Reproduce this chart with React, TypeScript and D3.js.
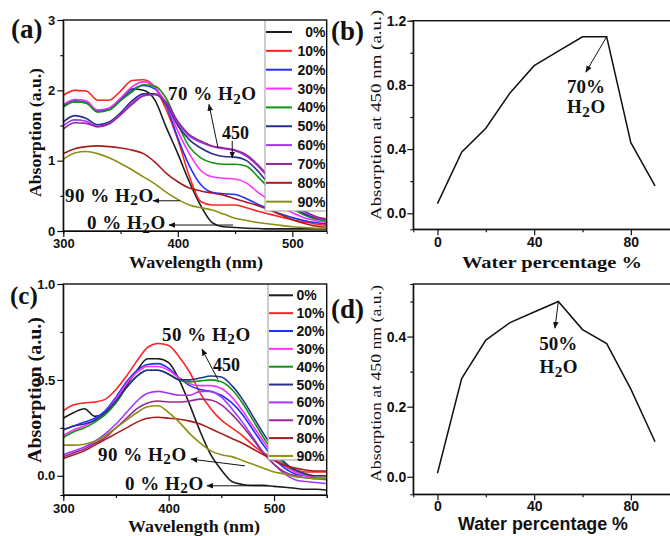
import { useEffect, useRef } from "react";
import * as d3 from "d3";

const SERIF = "'Liberation Serif', 'Times New Roman', serif";
const SANS = "'Liberation Sans', Arial, sans-serif";

// legend entries (water fraction) and their colours
const waterLevels = ["0%", "10%", "20%", "30%", "40%", "50%", "60%", "70%", "80%", "90%"];
const levelColors = ["#1c1c1c", "#ff2424", "#2030ff", "#ff30ff", "#129612", "#27308f", "#a436ff", "#962896", "#a81c1c", "#8e8e14"];

// ---- panel (a) spectra ----
const wavelengthA = [300, 310, 320, 330, 340, 350, 360, 370, 380, 390, 400, 410, 420, 430, 440, 450, 460, 470, 480, 490, 500, 510, 520, 530];
const absA0 = [1.78, 1.84, 1.82, 1.70, 1.74, 1.88, 2.02, 2.00, 1.86, 1.47, 1.10, 0.70, 0.36, 0.12, 0.06, 0.05, 0.04, 0.035, 0.03, 0.03, 0.03, 0.03, 0.03, 0.03];
const absA10 = [1.93, 2.00, 1.99, 1.86, 1.86, 1.99, 2.14, 2.15, 2.04, 1.72, 1.30, 0.78, 0.42, 0.37, 0.37, 0.37, 0.33, 0.28, 0.24, 0.20, 0.16, 0.13, 0.10, 0.08];
const absA20 = [1.77, 1.85, 1.83, 1.71, 1.74, 1.86, 2.00, 2.07, 2.02, 1.78, 1.32, 0.93, 0.66, 0.55, 0.53, 0.52, 0.46, 0.38, 0.31, 0.24, 0.19, 0.15, 0.12, 0.10];
const absA30 = [1.80, 1.87, 1.85, 1.72, 1.75, 1.89, 2.05, 2.12, 2.04, 1.80, 1.42, 1.10, 0.86, 0.77, 0.75, 0.74, 0.68, 0.55, 0.44, 0.34, 0.26, 0.19, 0.15, 0.12];
const absA40 = [1.76, 1.84, 1.82, 1.69, 1.72, 1.85, 1.98, 2.08, 2.06, 1.88, 1.52, 1.20, 1.04, 0.97, 0.95, 0.95, 0.92, 0.77, 0.60, 0.43, 0.32, 0.23, 0.17, 0.14];
const absA50 = [1.55, 1.64, 1.60, 1.51, 1.55, 1.68, 1.85, 1.95, 1.95, 1.80, 1.50, 1.30, 1.18, 1.10, 1.06, 1.05, 1.00, 0.85, 0.66, 0.50, 0.36, 0.25, 0.19, 0.16];
const absA60 = [1.50, 1.58, 1.56, 1.49, 1.53, 1.66, 1.82, 1.93, 1.94, 1.82, 1.54, 1.35, 1.26, 1.20, 1.17, 1.14, 1.06, 0.92, 0.74, 0.55, 0.40, 0.28, 0.20, 0.16];
const absA70 = [1.45, 1.54, 1.53, 1.48, 1.52, 1.65, 1.80, 1.92, 1.94, 1.83, 1.56, 1.37, 1.28, 1.21, 1.18, 1.15, 1.08, 0.94, 0.76, 0.57, 0.41, 0.29, 0.21, 0.17];
const absA80 = [1.10, 1.17, 1.20, 1.21, 1.20, 1.18, 1.15, 1.10, 0.98, 0.82, 0.70, 0.61, 0.57, 0.54, 0.51, 0.46, 0.41, 0.36, 0.30, 0.23, 0.16, 0.11, 0.07, 0.05];
const absA90 = [1.02, 1.11, 1.13, 1.10, 1.04, 0.96, 0.87, 0.77, 0.67, 0.55, 0.45, 0.37, 0.33, 0.30, 0.24, 0.18, 0.15, 0.12, 0.10, 0.08, 0.06, 0.05, 0.04, 0.04];

// ---- panel (c) spectra ----
const wavelengthC = [300, 310, 320, 330, 340, 350, 360, 370, 380, 390, 400, 410, 420, 430, 440, 450, 460, 470, 480, 490, 500, 510, 520, 530, 540, 550];
const absC0 = [0.30, 0.33, 0.35, 0.31, 0.33, 0.39, 0.47, 0.55, 0.61, 0.61, 0.59, 0.50, 0.37, 0.23, 0.11, 0.03, -0.03, -0.045, -0.05, -0.05, -0.055, -0.06, -0.065, -0.07, -0.07, -0.075];
const absC10 = [0.34, 0.37, 0.38, 0.385, 0.40, 0.45, 0.52, 0.60, 0.67, 0.69, 0.68, 0.62, 0.54, 0.43, 0.35, 0.29, 0.25, 0.21, 0.16, 0.12, 0.09, 0.05, 0.03, 0.02, 0.02, 0.02];
const absC20 = [0.24, 0.26, 0.28, 0.30, 0.34, 0.41, 0.49, 0.55, 0.58, 0.585, 0.56, 0.51, 0.47, 0.45, 0.44, 0.42, 0.38, 0.32, 0.24, 0.16, 0.09, 0.04, 0.01, 0.0, -0.01, -0.01];
const absC30 = [0.21, 0.24, 0.26, 0.29, 0.33, 0.40, 0.48, 0.54, 0.57, 0.57, 0.55, 0.51, 0.48, 0.47, 0.47, 0.455, 0.41, 0.34, 0.26, 0.18, 0.10, 0.05, 0.02, 0.0, -0.01, -0.01];
const absC40 = [0.20, 0.23, 0.25, 0.28, 0.32, 0.38, 0.46, 0.52, 0.55, 0.55, 0.53, 0.50, 0.49, 0.495, 0.50, 0.49, 0.45, 0.38, 0.29, 0.20, 0.12, 0.06, 0.03, 0.01, 0.0, 0.0];
const absC50 = [0.24, 0.26, 0.27, 0.29, 0.33, 0.39, 0.46, 0.52, 0.55, 0.55, 0.53, 0.50, 0.50, 0.51, 0.52, 0.515, 0.47, 0.40, 0.31, 0.22, 0.14, 0.07, 0.03, 0.01, 0.0, 0.0];
const absC60 = [0.11, 0.13, 0.15, 0.18, 0.22, 0.27, 0.33, 0.39, 0.43, 0.44, 0.43, 0.42, 0.42, 0.44, 0.44, 0.41, 0.35, 0.28, 0.20, 0.12, 0.06, 0.01, -0.02, -0.03, -0.035, -0.04];
const absC70 = [0.10, 0.12, 0.14, 0.17, 0.20, 0.25, 0.30, 0.35, 0.38, 0.39, 0.385, 0.385, 0.39, 0.40, 0.395, 0.37, 0.32, 0.26, 0.19, 0.12, 0.06, 0.02, 0.0, -0.01, -0.015, -0.02];
const absC80 = [0.09, 0.11, 0.13, 0.16, 0.19, 0.22, 0.25, 0.28, 0.30, 0.305, 0.30, 0.295, 0.285, 0.27, 0.245, 0.22, 0.195, 0.17, 0.14, 0.11, 0.08, 0.055, 0.04, 0.03, 0.025, 0.025];
const absC90 = [0.16, 0.16, 0.165, 0.18, 0.21, 0.25, 0.29, 0.33, 0.36, 0.365, 0.33, 0.28, 0.22, 0.17, 0.13, 0.11, 0.10, 0.08, 0.06, 0.04, 0.02, 0.01, -0.005, -0.01, -0.015, -0.015];

// ---- panels (b) and (d): absorption at 450 nm ----
const waterPercent = [0, 10, 20, 30, 40, 50, 60, 70, 80, 90];
const abs450B = [0.06, 0.38, 0.53, 0.75, 0.92, 1.01, 1.10, 1.10, 0.44, 0.17];
const abs450D = [0.01, 0.28, 0.39, 0.44, 0.47, 0.50, 0.42, 0.38, 0.25, 0.10];

function styleAxis(ax, size) {
  ax.select(".domain").remove();
  ax.selectAll("line").attr("stroke", "#111").attr("stroke-width", 1.2);
  ax.selectAll("text")
    .attr("font-family", SANS)
    .attr("font-weight", "bold")
    .attr("font-size", size)
    .attr("fill", "#111");
}

function drawAxes(g, x, y, c) {
  const bx = g.append("g").attr("transform", `translate(0,${c.bottom})`);
  bx.append("g").call(d3.axisBottom(x).tickValues(c.xMajor).tickSize(6).tickPadding(c.xPad).tickFormat(d3.format("d")));
  bx.append("g").call(d3.axisBottom(x).tickValues(c.xMinor).tickSize(3).tickFormat(() => ""));
  styleAxis(bx, c.tickSize);

  const ly = g.append("g").attr("transform", `translate(${c.left},0)`);
  ly.append("g").call(d3.axisLeft(y).tickValues(c.yMajor).tickSize(6).tickPadding(c.yPad).tickFormat(c.yFormat));
  ly.append("g").call(d3.axisLeft(y).tickValues(c.yMinor).tickSize(3).tickFormat(() => ""));
  styleAxis(ly, c.tickSize);

  g.append("rect")
    .attr("x", c.left)
    .attr("y", c.top)
    .attr("width", c.right - c.left)
    .attr("height", c.bottom - c.top)
    .attr("fill", "none")
    .attr("stroke", "#111")
    .attr("stroke-width", 1.4);
}

function waterText(g, x, y, prefix, size, anchor = "start") {
  const t = g
    .append("text")
    .attr("x", x)
    .attr("y", y)
    .attr("font-family", SERIF)
    .attr("font-weight", "bold")
    .attr("font-size", size)
    .attr("letter-spacing", 0.5)
    .attr("text-anchor", anchor)
    .attr("fill", "#111");
  t.append("tspan").text(prefix + "H");
  t.append("tspan").attr("dy", size * 0.2).attr("font-size", size * 0.8).text("2");
  t.append("tspan").attr("dy", -size * 0.2).text("O");
  return t;
}

function plainText(g, x, y, str, size, opts: any = {}) {
  const t = g
    .append("text")
    .attr("x", x)
    .attr("y", y)
    .attr("font-family", opts.family || SERIF)
    .attr("font-weight", opts.weight || "bold")
    .attr("font-size", size)
    .attr("text-anchor", opts.anchor || "start")
    .attr("fill", "#111")
    .text(str);
  if (opts.length) t.attr("textLength", opts.length).attr("lengthAdjust", "spacingAndGlyphs");
  if (opts.rotate) t.attr("transform", `rotate(-90,${x},${y})`);
  return t;
}

function arrow(g, x1, y1, x2, y2) {
  g.append("line")
    .attr("x1", x1)
    .attr("y1", y1)
    .attr("x2", x2)
    .attr("y2", y2)
    .attr("stroke", "#111")
    .attr("stroke-width", 1)
    .attr("marker-end", "url(#arrowHead)");
}

function drawSpectra(svg, c) {
  const x = d3.scaleLinear().domain(c.xDomain).range([c.left, c.right]);
  const y = d3.scaleLinear().domain(c.yDomain).range([c.bottom, c.top]);
  const g = svg.append("g");

  g.append("clipPath")
    .attr("id", c.id + "-clip")
    .append("rect")
    .attr("x", c.left)
    .attr("y", c.top)
    .attr("width", c.right - c.left)
    .attr("height", c.bottom - c.top);

  const line = d3
    .line<number>()
    .x((_, i) => x(c.xs[i]))
    .y((d) => y(d))
    .curve(d3.curveMonotoneX);

  g.append("g")
    .attr("clip-path", `url(#${c.id}-clip)`)
    .selectAll("path")
    .data(c.series)
    .join("path")
    .attr("d", (d) => line(d))
    .attr("fill", "none")
    .attr("stroke", (_, i) => levelColors[i])
    .attr("stroke-width", 1.6);

  // legend box
  const L = c.legend;
  const lg = g.append("g");
  lg.append("rect")
    .attr("x", L.left)
    .attr("y", c.top)
    .attr("width", c.right - L.left)
    .attr("height", L.bottom - c.top)
    .attr("fill", "#fff");
  lg.append("line").attr("x1", L.left).attr("x2", L.left).attr("y1", c.top).attr("y2", L.bottom).attr("stroke", "#9a9a9a");
  lg.append("line").attr("x1", L.left).attr("x2", c.right).attr("y1", L.bottom).attr("y2", L.bottom).attr("stroke", "#9a9a9a");
  const rows = lg
    .selectAll("g.row")
    .data(waterLevels)
    .join("g")
    .attr("class", "row")
    .attr("transform", (_, i) => `translate(0,${L.rowTop + i * L.rowStep})`);
  rows.append("line")
    .attr("x1", L.lineX0)
    .attr("x2", L.lineX1)
    .attr("stroke", (_, i) => levelColors[i])
    .attr("stroke-width", 2);
  rows.append("text")
    .attr("x", L.textX)
    .attr("y", 5)
    .attr("text-anchor", L.anchor)
    .attr("font-family", SANS)
    .attr("font-weight", "bold")
    .attr("font-size", 14)
    .attr("fill", "#111")
    .text((d) => d);

  drawAxes(g, x, y, c);
  return { g, x, y };
}

function drawTrend(svg, c) {
  const x = d3.scaleLinear().domain(c.xDomain).range([c.left, c.right]);
  const y = d3.scaleLinear().domain(c.yDomain).range([c.bottom, c.top]);
  const g = svg.append("g");
  const line = d3
    .line<number>()
    .x((_, i) => x(waterPercent[i]))
    .y((d) => y(d));
  g.append("path")
    .attr("d", line(c.values))
    .attr("fill", "none")
    .attr("stroke", "#111")
    .attr("stroke-width", 1.5);
  drawAxes(g, x, y, c);
  return { g, x, y };
}

export default function App() {
  const svgRef = useRef(null);

  useEffect(() => {
    const svg = d3.select(svgRef.current);
    svg.selectAll("*").remove();

    svg.append("rect").attr("width", 670).attr("height", 536).attr("fill", "#fff");
    svg.append("defs")
      .append("marker")
      .attr("id", "arrowHead")
      .attr("viewBox", "0 0 10 10")
      .attr("refX", 9)
      .attr("refY", 5)
      .attr("markerWidth", 7)
      .attr("markerHeight", 7)
      .attr("markerUnits", "userSpaceOnUse")
      .attr("orient", "auto")
      .append("path")
      .attr("d", "M0,1 L10,5 L0,9 Z")
      .attr("fill", "#111");

    // (a)
    const A = drawSpectra(svg, {
      id: "pa",
      left: 63.3, right: 326.7, top: 20, bottom: 231,
      xDomain: [300, 530], yDomain: [0, 3],
      xs: wavelengthA,
      series: [absA0, absA10, absA20, absA30, absA40, absA50, absA60, absA70, absA80, absA90],
      xMajor: [300, 400, 500], xMinor: [350, 450],
      yMajor: [0, 1, 2, 3], yMinor: [0.5, 1.5, 2.5],
      yFormat: d3.format("d"), xPad: 2, yPad: 2, tickSize: 13,
      legend: { left: 265, bottom: 211, rowTop: 32, rowStep: 18.85, lineX0: 266, lineX1: 292, textX: 325.5, anchor: "end" },
    });
    waterText(A.g, A.x(391.4), A.y(1.863), "70 % ", 19);
    arrow(A.g, A.x(435.1), A.y(1.18), A.x(427.2), A.y(1.80));
    plainText(A.g, A.x(438.6), A.y(1.309), "450", 18);
    arrow(A.g, A.x(447.5), A.y(1.28), A.x(447.5), A.y(1.04));
    waterText(A.g, A.x(301.5), A.y(0.417), "90 % ", 19);
    arrow(A.g, A.x(401.9), A.y(0.43), A.x(378.5), A.y(0.43));
    waterText(A.g, A.x(320.7), A.y(0.028), "0 % ", 19);
    arrow(A.g, A.x(448.2), A.y(0.085), A.x(392.3), A.y(0.085));

    // (c)
    const C = drawSpectra(svg, {
      id: "pc",
      left: 63.3, right: 326.7, top: 284, bottom: 495,
      xDomain: [300, 550], yDomain: [-0.1, 1.0],
      xs: wavelengthC,
      series: [absC0, absC10, absC20, absC30, absC40, absC50, absC60, absC70, absC80, absC90],
      xMajor: [300, 400, 500], xMinor: [350, 450, 550],
      yMajor: [0, 0.5, 1.0], yMinor: [0.25, 0.75],
      yFormat: d3.format(".1f"), xPad: 3, yPad: 2, tickSize: 13,
      legend: { left: 268, bottom: 460, rowTop: 295.3, rowStep: 17.85, lineX0: 269, lineX1: 293, textX: 296.5, anchor: "start" },
    });
    waterText(C.g, C.x(393.7), C.y(0.705), "50 % ", 19);
    arrow(C.g, C.x(446.8), C.y(0.502), C.x(431.6), C.y(0.66));
    plainText(C.g, C.x(442.1), C.y(0.544), "450", 18);
    waterText(C.g, C.x(333), C.y(0.079), "90 % ", 19);
    arrow(C.g, C.x(472.4), C.y(0.052), C.x(421.2), C.y(0.087));
    waterText(C.g, C.x(358.6), C.y(-0.072), "0 % ", 19);
    arrow(C.g, C.x(493), C.y(-0.052), C.x(436.4), C.y(-0.052));

    // (b)
    const B = drawTrend(svg, {
      left: 413.3, right: 679.2, top: 20.7, bottom: 229.3,
      xDomain: [-10, 100], yDomain: [-0.1, 1.2],
      values: abs450B,
      xMajor: [0, 40, 80], xMinor: [20, 60],
      yMajor: [0, 0.4, 0.8, 1.2], yMinor: [0.2, 0.6, 1.0],
      yFormat: d3.format(".1f"), xPad: 1.5, yPad: 1, tickSize: 14,
    });
    arrow(B.g, B.x(70), B.y(1.1), B.x(61.4), B.y(0.88));
    plainText(B.g, B.x(61.4), B.y(0.751), "70%", 19, { anchor: "middle" });
    waterText(B.g, B.x(61.6), B.y(0.624), "", 19, "middle");

    // (d)
    const D = drawTrend(svg, {
      left: 413.3, right: 679.2, top: 284, bottom: 494.3,
      xDomain: [-10, 100], yDomain: [-0.05, 0.55],
      values: abs450D,
      xMajor: [0, 40, 80], xMinor: [20, 60],
      yMajor: [0, 0.2, 0.4], yMinor: [0.1, 0.3, 0.5],
      yFormat: d3.format(".1f"), xPad: 1, yPad: 1, tickSize: 14,
    });
    arrow(D.g, D.x(50), D.y(0.5), D.x(48.6), D.y(0.424));
    plainText(D.g, D.x(50), D.y(0.363), "50%", 19, { anchor: "middle" });
    waterText(D.g, D.x(50.2), D.y(0.296), "", 19, "middle");

    // panel letters
    plainText(svg, 11, 38, "(a)", 27);
    plainText(svg, 331, 40, "(b)", 27);
    plainText(svg, 10, 304, "(c)", 25);
    plainText(svg, 331, 318, "(d)", 27);

    // axis titles
    plainText(svg, 40.5, 132.5, "Absorption (a.u.)", 17, { anchor: "middle", rotate: true, length: 129 });
    plainText(svg, 196, 268, "Wavelength (nm)", 17, { anchor: "middle", length: 134 });
    plainText(svg, 40.5, 390, "Absorption (a.u.)", 18, { anchor: "middle", rotate: true, length: 146 });
    plainText(svg, 194, 532, "Wavelength (nm)", 17, { anchor: "middle", length: 132 });
    plainText(svg, 381, 115, "Absorption at 450 nm (a.u.)", 15, { anchor: "middle", rotate: true, length: 210, weight: "normal" });
    plainText(svg, 552, 268, "Water percentage %", 17, { anchor: "middle", length: 180 });
    plainText(svg, 381, 383.5, "Absorption at 450 nm (a.u.)", 15, { anchor: "middle", rotate: true, length: 197, weight: "normal" });
    plainText(svg, 543, 529.5, "Water percentage %", 17.5, { anchor: "middle", family: SANS, length: 170 });
  }, []);

  return (
    <svg
      ref={svgRef}
      width={670}
      height={536}
      style={{ position: "absolute", left: 0, top: 0, display: "block" }}
    />
  );
}
